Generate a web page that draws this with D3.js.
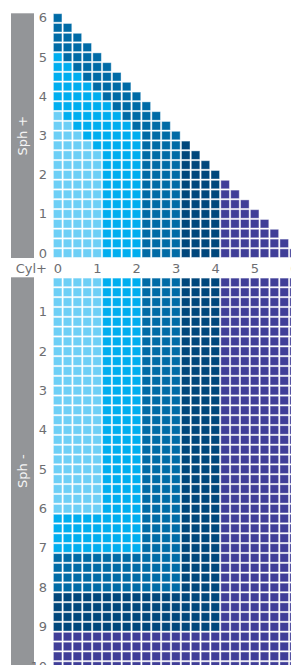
<!DOCTYPE html>
<html>
<head>
<meta charset="utf-8">
<script src="https://cdn.jsdelivr.net/npm/d3@7"></script>
<style>
  html, body { margin: 0; padding: 0; background: #fff; overflow: hidden; }
  svg { display: block; font-family: "DejaVu Sans", Verdana, sans-serif; }
</style>
</head>
<body>
<svg id="chart"></svg>
<script>
// cylinder columns (plus cyl), 0 .. 6 in quarter steps
const cylValues = d3.range(0, 6.01, 0.25);
const cylTicks = [0, 1, 2, 3, 4, 5, 6];

// sphere rows
const sphPlus = d3.range(6, -0.01, -0.25);        // 6 .. 0
const sphMinus = d3.range(-0.25, -10.01, -0.25);  // -0.25 .. -10
const sphPlusTicks = [6, 5, 4, 3, 2, 1, 0];
const sphMinusTicks = [-1, -2, -3, -4, -5, -6, -7, -8, -9, -10];

// colour group of every cell, one string per row, one digit per cyl column
const plusRows = [
  "2",
  "22",
  "222",
  "2222",
  "12222",
  "112222",
  "1112222",
  "11112222",
  "111112222",
  "1111112222",
  "01111112222",
  "001111112222",
  "0001111112222",
  "00001111122223",
  "000001111222233",
  "0000011112222333",
  "00000111122223333",
  "000001111222233334",
  "0000011112222333344",
  "00000111122223333444",
  "000001111222233334444",
  "0000011112222333344444",
  "00000111122223333444444",
  "000001111222233334444444",
  "0000011112222333344444444",
];
// minus rows come in blocks of identical rows
const minusBlocks = [
  { rows: 24, pattern: "0000011112222333344444444" },
  { rows: 4, pattern: "1111111112222333344444444" },
  { rows: 4, pattern: "2222222222222333344444444" },
  { rows: 4, pattern: "3333333333333333344444444" },
  { rows: 4, pattern: "4444444444444444444444444" },
];
const groupColors = ["#6dcff6", "#00aeef", "#006ba6", "#00477c", "#403e98"];

const W = 291, H = 665;
const svg = d3.select("#chart").attr("width", W).attr("height", H);

const x = d3.scaleBand().domain(cylValues).range([53, 53 + cylValues.length * 9.85]);
const yTop = d3.scaleBand().domain(sphPlus).range([13.3, 13.3 + sphPlus.length * 9.8]);
const yBot = d3.scaleBand().domain(sphMinus).range([277.7, 277.7 + sphMinus.length * 9.84]);
const color = d3.scaleOrdinal().domain([0, 1, 2, 3, 4]).range(groupColors);

// build the cell table
const cells = [];
plusRows.forEach((row, i) => {
  row.split("").forEach((g, j) => {
    cells.push({ sph: sphPlus[i], cyl: cylValues[j], group: +g, part: "top" });
  });
});
let r = 0;
minusBlocks.forEach((b) => {
  for (let k = 0; k < b.rows; k++, r++) {
    b.pattern.split("").forEach((g, j) => {
      cells.push({ sph: sphMinus[r], cyl: cylValues[j], group: +g, part: "bot" });
    });
  }
});

// side bars
svg.append("rect").attr("x", 11).attr("y", 13.3).attr("width", 23).attr("height", 244.7).attr("fill", "#939598");
svg.append("rect").attr("x", 11).attr("y", 277.3).attr("width", 23).attr("height", 400).attr("fill", "#939598");
svg.append("text")
  .attr("transform", `translate(27, ${(13.3 + 258) / 2}) rotate(-90)`)
  .attr("text-anchor", "middle")
  .attr("fill", "#f4f4f4")
  .style("font-size", "13px")
  .text("Sph +");
svg.append("text")
  .attr("transform", `translate(27, ${(277.3 + 665) / 2}) rotate(-90)`)
  .attr("text-anchor", "middle")
  .attr("fill", "#f4f4f4")
  .style("font-size", "13px")
  .text("Sph -");

// cells
svg.append("g")
  .selectAll("rect")
  .data(cells)
  .join("rect")
  .attr("x", (d) => x(d.cyl) + 0.4)
  .attr("y", (d) => (d.part === "top" ? yTop(d.sph) : yBot(d.sph)) + 0.4)
  .attr("width", x.bandwidth() - 1.3)
  .attr("height", (d) => (d.part === "top" ? yTop.bandwidth() : yBot.bandwidth()) - 1.3)
  .attr("fill", (d) => color(d.group))
  .attr("stroke", "#fff")
  .attr("stroke-opacity", 0.45)
  .attr("stroke-width", 0.9);

// axes
function styleAxis(g) {
  g.select(".domain").remove();
  g.selectAll("text")
    .attr("fill", "#6d6e71")
    .style("font-size", "13px")
    .style("font-family", "DejaVu Sans, Verdana, sans-serif");
}

svg.append("g")
  .attr("transform", "translate(53, 0)")
  .call(d3.axisLeft(yTop).tickValues(sphPlusTicks).tickSize(0).tickPadding(6))
  .call(styleAxis);

svg.append("g")
  .attr("transform", "translate(53, 0)")
  .call(d3.axisLeft(yBot).tickValues(sphMinusTicks).tickSize(0).tickPadding(6)
    .tickFormat((d) => Math.abs(d)))
  .call(styleAxis);

svg.append("g")
  .attr("transform", "translate(0, 258.3)")
  .call(d3.axisBottom(x).tickValues(cylTicks).tickSize(0).tickPadding(5))
  .call(styleAxis);

svg.append("text")
  .attr("x", 47)
  .attr("y", 268)
  .attr("dy", "0.35em")
  .attr("text-anchor", "end")
  .attr("fill", "#6d6e71")
  .style("font-size", "13px")
  .text("Cyl+");
</script>
</body>
</html>
